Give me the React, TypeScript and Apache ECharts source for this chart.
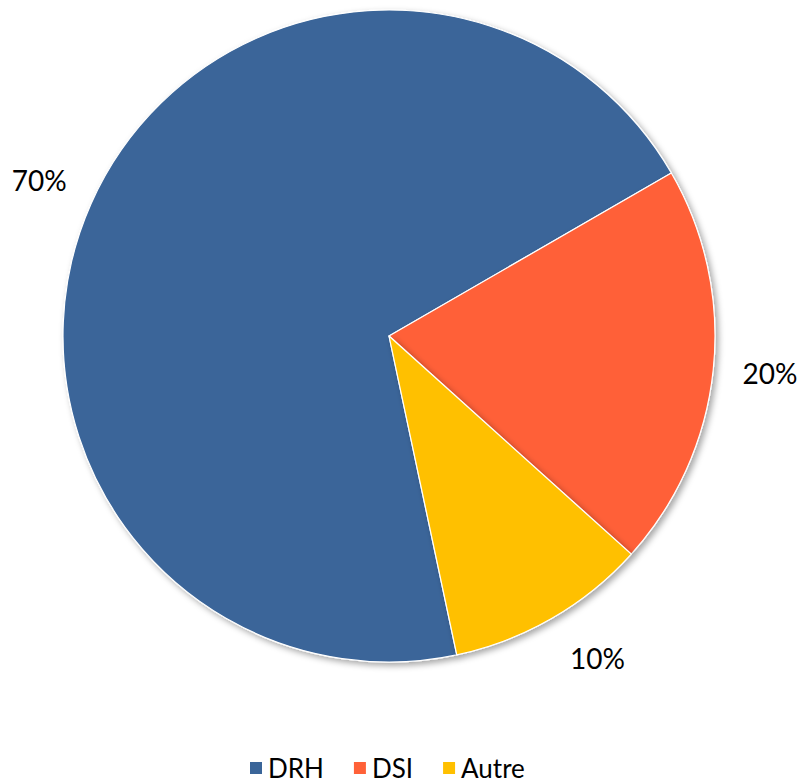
import React, { useEffect, useRef } from "react";
import * as echarts from "echarts";

const categories = ["DRH", "DSI", "Autre"];
const values = [70, 20, 10];
const labels = ["70%", "20%", "10%"];
const colors = ["#3A6599", "#FF6138", "#FFC000"];

export default function App() {
  const ref = useRef<HTMLDivElement>(null);
  useEffect(() => {
    document.body.style.margin = "0";
    const chart = echarts.init(ref.current!, null, { renderer: "svg" });
    const labelOffsets: Record<string, number[]> = {
      DRH: [0, 0],
      DSI: [0, -3],
      Autre: [17, -10],
    };
    const data = categories.map((c, i) => ({
      name: c,
      value: values[i],
      itemStyle: { color: colors[i] },
    }));
    const labelData = categories.map((c, i) => ({
      name: c,
      value: values[i],
      label: { formatter: labels[i], offset: labelOffsets[c] },
    }));
    chart.setOption({
      animation: false,
      legend: {
        data: categories,
        top: 755,
        left: 248,
        padding: 0,
        icon: "rect",
        itemWidth: 14,
        itemHeight: 14,
        itemGap: 28,
        itemTextGap: 12,
        textStyle: { fontFamily: "Lato", fontSize: 26, lineHeight: 24, color: "#000" },
      },
      series: [
        {
          type: "pie",
          center: [389, 336],
          radius: [0, 326],
          startAngle: 282,
          clockwise: true,
          data,
          label: { show: false },
          labelLine: { show: false },
          silent: true,
          itemStyle: {
            borderColor: "#fff",
            borderWidth: 1.2,
            shadowBlur: 6,
            shadowOffsetX: 3,
            shadowOffsetY: 3,
            shadowColor: "rgba(0,0,0,0.35)",
          },
          emphasis: { disabled: true },
        },
        {
          type: "pie",
          center: [389, 336],
          radius: [368, 392],
          startAngle: 282,
          clockwise: true,
          data: labelData,
          silent: true,
          itemStyle: { color: "transparent" },
          label: {
            show: true,
            position: "inside",
            fontFamily: "Lato",
            fontSize: 28,
            color: "#000",
          },
          labelLine: { show: false },
          emphasis: { disabled: true },
          legendHoverLink: false,
        },
      ],
    });
    return () => chart.dispose();
  }, []);
  return <div ref={ref} style={{ width: 798, height: 783 }} />;
}
